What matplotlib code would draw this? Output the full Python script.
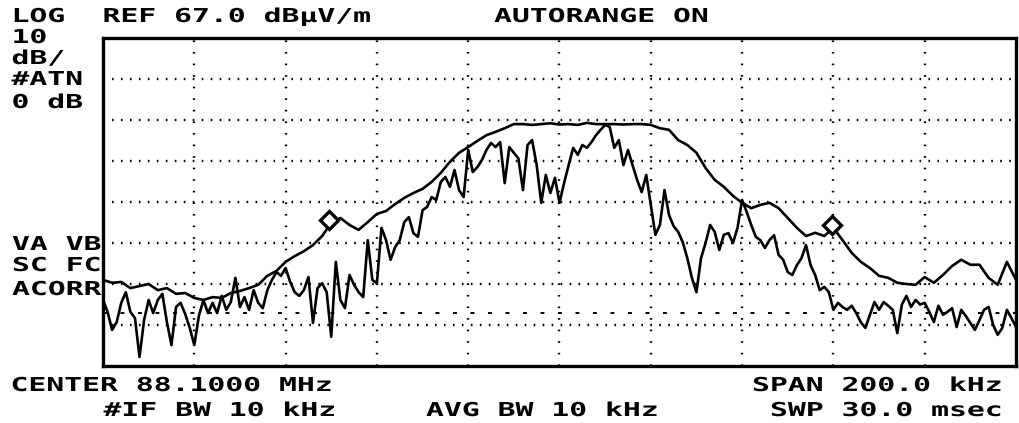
import numpy as np
import matplotlib.pyplot as plt
from matplotlib.patheffects import AbstractPathEffect
from matplotlib.transforms import Affine2D

W, H = 1020, 423

# analyzer screen: 10 dB/div from REF 67.0 dBuV/m, 200 kHz span around 88.1 MHz
REF_DB = 67.0
DB_PER_DIV = 10
SPAN_KHZ = 200

# trace A (smoother hold trace), one reading every 2 kHz across the span
level_a_db = [
    8.0, 7.3, 7.5, 6.0, 6.5, 7.0, 5.5, 6.0, 4.6, 4.8,
    3.6, 3.1, 3.8, 3.6, 4.8, 5.3, 6.0, 6.8, 9.0, 10.2,
    12.4, 13.8, 15.0, 16.5, 18.7, 21.9, 23.1, 21.4, 20.2, 22.1,
    24.1, 24.8, 26.5, 28.0, 29.2, 30.2, 31.9, 34.1, 36.8, 39.0,
    40.4, 41.9, 43.3, 44.1, 45.0, 46.0, 46.0, 45.8, 46.0, 46.2,
    45.9, 46.0, 45.8, 46.3, 46.0, 46.0, 46.0, 45.9, 46.0, 46.0,
    45.8, 45.0, 44.6, 42.1, 40.9, 39.0, 35.3, 32.4, 30.7, 28.5,
    26.8, 25.5, 26.3, 26.8, 25.5, 23.1, 20.7, 18.7, 19.5, 18.7,
    20.7, 17.7, 14.6, 12.4, 10.9, 9.0, 8.5, 7.3, 7.0, 6.8,
    8.7, 7.3, 9.2, 11.4, 12.9, 11.7, 11.7, 8.5, 6.8, 12.4,
    8.0,
]

# trace B (noisy live trace), one reading every 1 kHz across the span
level_b_db = [
    3.1, 0.2, -4.2, -2.3, 2.4, 5.0, 0.2, -1.3, -10.8, -1.8,
    3.1, -0.1, 3.1, 4.6, -2.3, -7.9, 1.4, 2.4, -0.3, -3.7,
    -7.9, -0.8, 3.1, -0.1, 2.4, -0.1, 4.1, 0.7, 2.6, 8.5,
    1.4, 3.8, 0.7, 5.5, 2.4, 1.1, 5.5, 8.0, 9.9, 9.0,
    10.9, 7.5, 5.0, 4.1, 5.5, 8.7, -2.5, 6.0, 7.2, 5.0,
    -5.9, 12.4, 3.1, 1.1, 9.2, 6.8, 5.0, 3.8, 17.7, 8.0,
    7.2, 20.7, 17.7, 12.9, 16.0, 17.7, 22.1, 23.3, 19.4, 18.5,
    25.0, 25.8, 28.2, 27.5, 31.9, 33.1, 30.7, 34.8, 29.9, 28.2,
    39.7, 34.3, 35.5, 37.2, 39.7, 41.4, 40.4, 41.6, 31.6, 40.4,
    39.0, 37.6, 29.9, 40.9, 42.1, 36.0, 26.8, 33.6, 29.2, 32.9,
    26.8, 31.6, 36.0, 40.2, 38.5, 40.9, 40.2, 41.6, 43.3, 44.6,
    45.8, 45.3, 40.2, 42.1, 36.0, 39.7, 36.0, 32.4, 29.4, 33.6,
    26.3, 19.0, 21.4, 29.9, 23.8, 21.1, 19.7, 17.2, 13.3, 8.5,
    5.0, 13.3, 17.0, 21.4, 19.7, 15.3, 19.0, 19.4, 17.0, 20.7,
    27.5, 24.6, 21.4, 18.5, 17.7, 15.8, 17.7, 18.9, 14.1, 12.9,
    9.9, 9.2, 11.6, 13.3, 16.5, 11.6, 9.2, 5.5, 6.3, 5.0,
    0.7, 2.4, 1.4, 0.7, 1.7, -0.1, -2.3, -3.7, -0.5, 2.6,
    0.7, 2.6, 1.7, 0.7, -5.0, 2.0, 4.1, 1.4, 3.1, 2.0,
    2.4, 0.2, -2.3, 1.7, -0.5, 0.2, 1.1, -3.5, 0.7, -0.8,
    -2.5, -4.2, -1.8, 0.7, 1.4, -3.0, -5.4, -3.7, 0.7, -1.3,
    -3.5,
]

marker_khz = [-50.4, 59.8]
marker_db = [22.6, 21.4]
display_line_db = 0.0

header_left = ["LOG", "10", "dB/", "#ATN", "0 dB"]
header_left_y = [22, 43, 64, 85, 108]
status_left = ["VA VB", "SC FC", "ACORR"]
status_left_y = [250, 271, 295]


class StretchX(AbstractPathEffect):
    """Widen glyphs from the text origin; the analyzer font is wider than any mono font here."""

    def __init__(self, sx):
        super().__init__()
        self.sx = sx

    def draw_path(self, renderer, gc, tpath, affine, rgbFace=None):
        renderer.draw_path(gc, tpath, Affine2D().scale(self.sx, 1.0) + affine, rgbFace)


FONT_PT = 13.8
PITCH_PX = 17.9
SX = PITCH_PX / (0.602 * FONT_PT * 100 / 72)


def screen_text(fig, x, y, s):
    fig.text(x / W, 1 - y / H, s, ha="left", va="baseline",
             family="DejaVu Sans Mono", weight="bold", size=FONT_PT, color="black",
             path_effects=[StretchX(SX)])


fig = plt.figure(figsize=(W / 100, H / 100), dpi=100, facecolor="white")
ax = fig.add_axes([103 / W, 1 - 366 / H, 913 / W, 328 / H])

half = SPAN_KHZ / 2
freq_a = np.linspace(-half, half, len(level_a_db))
freq_b = np.linspace(-half, half, len(level_b_db))
bottom_db = REF_DB - 8 * DB_PER_DIV

# dotted graticule
for fx in np.arange(-half + 20, half, 20):
    ax.axvline(fx, color="black", lw=1.7, ls=(0, (0.7, 4.2)), zorder=1)
for gy in np.arange(REF_DB - DB_PER_DIV, bottom_db, -DB_PER_DIV):
    ax.axhline(gy, color="black", lw=1.7, ls=(0, (0.7, 3.1)), zorder=1)
ax.axhline(display_line_db, color="black", lw=1.4, ls=(0, (2.0, 7.0)), zorder=1)

ax.plot(freq_a, level_a_db, color="black", lw=1.9, solid_joinstyle="round", zorder=3)
ax.plot(freq_b, level_b_db, color="black", lw=1.9, solid_joinstyle="round", zorder=3)
ax.plot(marker_khz, marker_db, "D", ms=9.5, mfc="white", mec="black", mew=2.4, zorder=5)

ax.set_xlim(-half, half)
ax.set_ylim(bottom_db, REF_DB)
ax.set_xticks([])
ax.set_yticks([])
for sp in ax.spines.values():
    sp.set_linewidth(2.4)
    sp.set_color("black")

for s, y in zip(header_left, header_left_y):
    screen_text(fig, 11.5, y, s)
screen_text(fig, 102.5, 22, "REF 67.0 dBμV/m")
screen_text(fig, 494, 22, "AUTORANGE ON")
for s, y in zip(status_left, status_left_y):
    screen_text(fig, 12, y, s)

screen_text(fig, 10.5, 391, "CENTER 88.1000 MHz")
screen_text(fig, 103.5, 416, "#IF BW 10 kHz")
screen_text(fig, 426, 416, "AVG BW 10 kHz")
screen_text(fig, 752, 391, "SPAN 200.0 kHz")
screen_text(fig, 770, 416, "SWP 30.0 msec")

fig.savefig("out.png", dpi=100, facecolor="white")
